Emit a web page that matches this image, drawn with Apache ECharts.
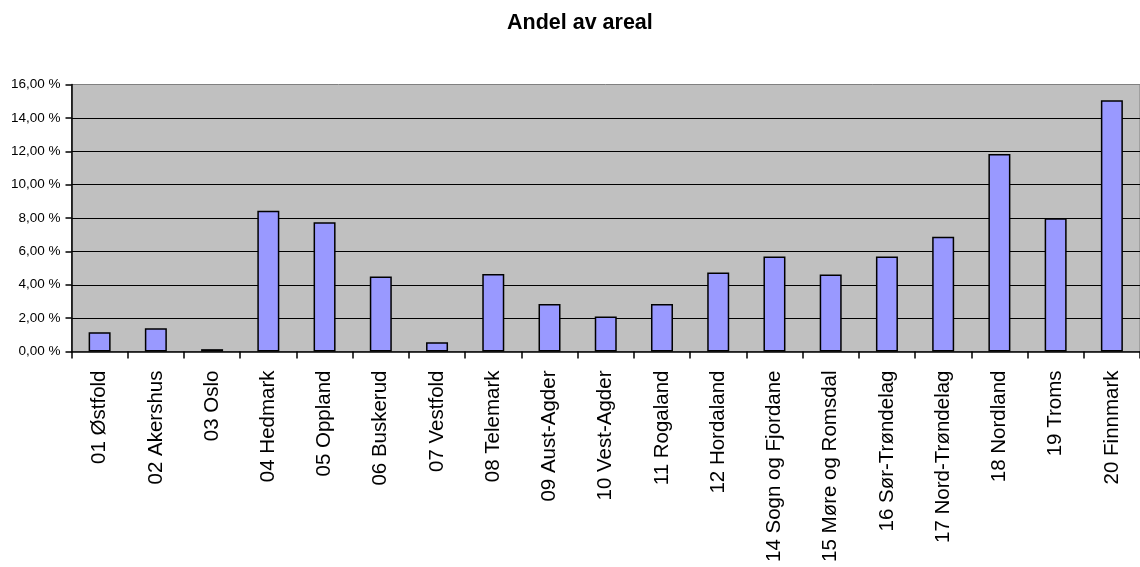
<!DOCTYPE html>
<html>
<head>
<meta charset="utf-8">
<script src="https://cdn.jsdelivr.net/npm/echarts@6/dist/echarts.min.js"></script>
<style>
  html, body { margin: 0; padding: 0; background: #fff; }
  #chart { width: 1140px; height: 567px; }
</style>
</head>
<body>
<div id="chart"></div>
<script>
// Fylke names and their share of Norway's land area (percent)
const fylker = [
  '01 Østfold', '02 Akershus', '03 Oslo', '04 Hedmark', '05 Oppland',
  '06 Buskerud', '07 Vestfold', '08 Telemark', '09 Aust-Agder', '10 Vest-Agder',
  '11 Rogaland', '12 Hordaland', '14 Sogn og Fjordane', '15 Møre og Romsdal',
  '16 Sør-Trøndelag', '17 Nord-Trøndelag', '18 Nordland', '19 Troms', '20 Finnmark'
];
const andelAvAreal = [
  1.16, 1.40, 0.14, 8.44, 7.74,
  4.49, 0.56, 4.65, 2.84, 2.09,
  2.84, 4.73, 5.69, 4.61,
  5.69, 6.88, 11.83, 7.98, 15.06
];
const yMin = 0, yMax = 16, yStep = 2;

const font = '"Liberation Sans", Arial, sans-serif';
const chart = echarts.init(document.getElementById('chart'), null, { renderer: 'canvas' });

chart.setOption({
  animation: false,
  backgroundColor: '#ffffff',
  title: {
    text: 'Andel av areal',
    left: 507,
    top: 12,
    padding: 0,
    textStyle: { fontFamily: font, fontSize: 21.5, fontWeight: 'bold', color: '#000' }
  },
  grid: {
    left: 71.5,
    top: 84.5,
    width: 1080,
    height: 267,
    show: true,
    backgroundColor: '#C0C0C0',
    borderColor: '#808080',
    borderWidth: 1
  },
  xAxis: {
    type: 'category',
    data: fylker,
    axisLine: { show: true, lineStyle: { color: '#000', width: 1.5 } },
    axisTick: { show: true, length: 7, lineStyle: { color: '#000', width: 1.5 } },
    axisLabel: {
      rotate: 90,
      margin: 19,
      interval: 0,
      fontFamily: font,
      fontSize: 20.5,
      color: '#000'
    },
    splitLine: { show: false }
  },
  yAxis: {
    type: 'value',
    min: yMin,
    max: yMax,
    interval: yStep,
    axisLine: { show: true, lineStyle: { color: '#000', width: 1.5 } },
    axisTick: { show: true, length: 6, lineStyle: { color: '#000', width: 1.5 } },
    axisLabel: {
      margin: 11,
      fontFamily: font,
      fontSize: 13.5,
      color: '#000',
      formatter: v => v.toFixed(2).replace('.', ',') + ' %'
    },
    splitLine: { show: true, showMaxLine: false, showMinLine: false, lineStyle: { color: '#000', width: 1.2 } }
  },
  series: [{
    type: 'bar',
    data: andelAvAreal,
    barWidth: 22,
    itemStyle: { color: '#9999FF', borderColor: '#000', borderWidth: 1.5 }
  }]
});
</script>
</body>
</html>
